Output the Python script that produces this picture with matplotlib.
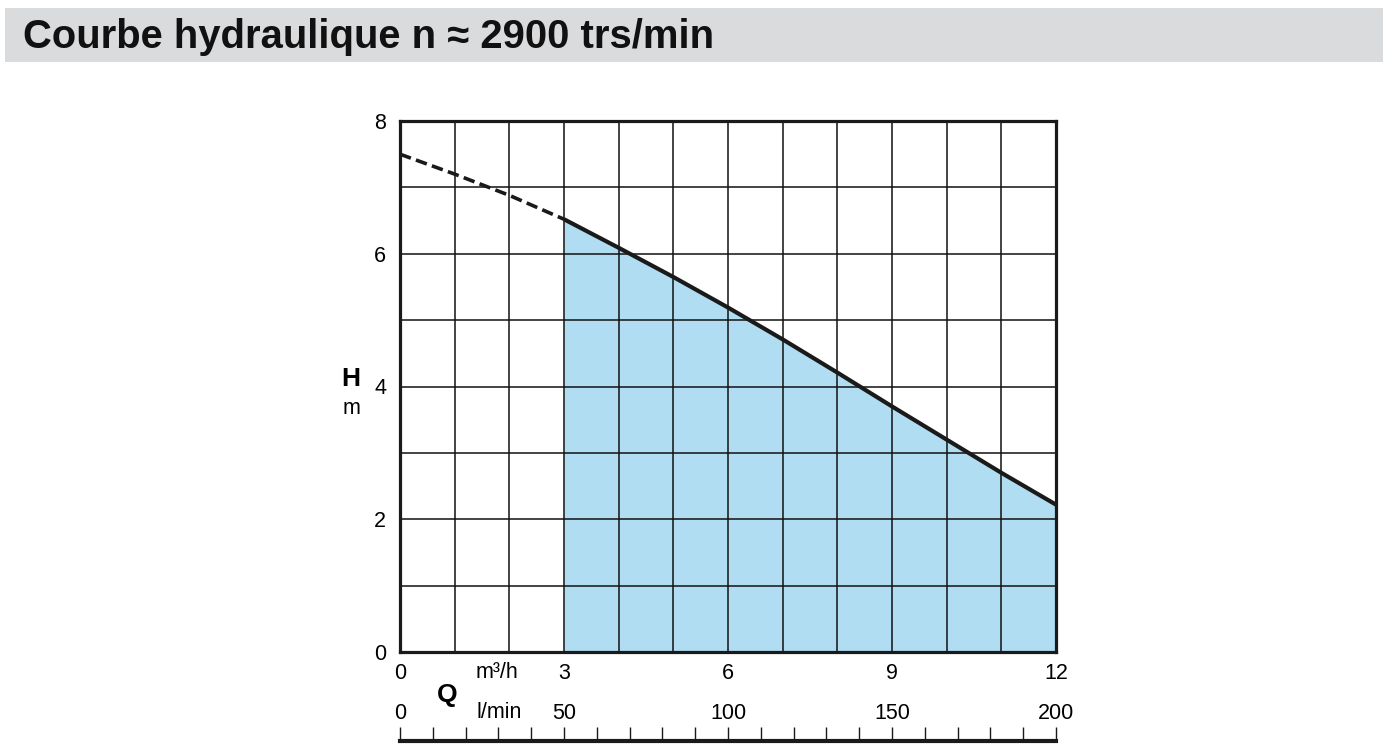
import matplotlib
matplotlib.use("Agg")
import matplotlib.pyplot as plt
from matplotlib.patches import Rectangle

plt.rcParams['font.family'] = ['Liberation Sans', 'DejaVu Sans']

# ---- data ----
q_m3h = [0, 1, 2, 3, 4, 5, 6, 7, 8, 9, 10, 11, 12]
h_m = [7.50, 7.20, 6.88, 6.52, 6.09, 5.65, 5.19, 4.71, 4.21, 3.70, 3.20, 2.70, 2.22]
q_start_solid = 3
x_ticks = [0, 3, 6, 9, 12]
x_tick_labels = ['0', '3', '6', '9', '12']
y_ticks = [0, 2, 4, 6, 8]
lmin_ticks = [0, 50, 100, 150, 200]
lmin_labels = ['0', '50', '100', '150', '200']
lmin_minor = list(range(0, 201, 10))
title = "Courbe hydraulique n \u2248 2900 trs/min"

W, H = 1394, 754
fig = plt.figure(figsize=(W / 100, H / 100), dpi=100)
FS = 15.5
FSB = 19

# title band
fig.patches.append(Rectangle((5 / W, 1 - 62 / H), 1378 / W, 54 / H,
                             transform=fig.transFigure, facecolor='#dadbdd',
                             edgecolor='none', zorder=0))
fig.text(23 / W, 1 - 37 / H, title, fontsize=28.8, fontweight='bold',
         ha='left', va='center', color='#111111')

# main axes
L, R, T, B = 400, 1056, 121, 652
ax = fig.add_axes([L / W, 1 - B / H, (R - L) / W, (B - T) / H])
ax.set_xlim(0, 12)
ax.set_ylim(0, 8)

dash_idx = [i for i, q in enumerate(q_m3h) if q <= q_start_solid]
solid_idx = [i for i, q in enumerate(q_m3h) if q >= q_start_solid]
qs = [q_m3h[i] for i in solid_idx]
hs = [h_m[i] for i in solid_idx]
ax.fill_between(qs, hs, 0, color='#b0ddf2', lw=0, zorder=1)
ax.plot([q_m3h[i] for i in dash_idx], [h_m[i] for i in dash_idx],
        color='#1a1a1a', lw=2.6, ls=(0, (3.2, 1.5)), zorder=4, solid_capstyle='butt')
ax.plot(qs, hs, color='#1a1a1a', lw=3.0, zorder=4, solid_capstyle='butt',
        solid_joinstyle='round')

ax.set_xticks(x_ticks)
ax.set_xticklabels(x_tick_labels)
ax.set_xticks(range(0, 13), minor=True)
ax.set_yticks(y_ticks)
ax.set_yticks(range(0, 9), minor=True)
ax.grid(True, which='both', color='#111111', lw=1.1)
ax.set_axisbelow(False)
ax.tick_params(which='both', length=0)
ax.tick_params(axis='x', pad=8, labelsize=FS)
ax.tick_params(axis='y', pad=10, labelsize=FS)
for s in ax.spines.values():
    s.set_linewidth(2.3)
    s.set_color('#1a1a1a')
    s.set_zorder(5)

# axis labels
ax.annotate('H', xy=(0, 4), xycoords='data', xytext=(-49, 8), textcoords='offset pixels',
            fontsize=FSB, fontweight='bold', ha='center', va='center')
ax.annotate('m', xy=(0, 4), xycoords='data', xytext=(-49, -22), textcoords='offset pixels',
            fontsize=FS, ha='center', va='center')
ax.annotate('m\u00b3/h', xy=(1.78, 0), xycoords='data', xytext=(0, -20), textcoords='offset pixels',
            fontsize=FS, ha='center', va='center')
ax.annotate('Q', xy=(0.87, 0), xycoords='data', xytext=(0, -43), textcoords='offset pixels',
            fontsize=FSB, fontweight='bold', ha='center', va='center')
ax.annotate('l/min', xy=(1.82, 0), xycoords='data', xytext=(0, -60), textcoords='offset pixels',
            fontsize=FS, ha='center', va='center')

# l/min ruler
rt, rb = 727, 741
ax2 = fig.add_axes([L / W, 1 - rb / H, (R - L) / W, (rb - rt) / H])
ax2.set_xlim(0, 200)
ax2.set_ylim(0, 1)
ax2.patch.set_alpha(0)
for k in ['top', 'left', 'right']:
    ax2.spines[k].set_visible(False)
ax2.spines['bottom'].set_linewidth(3.0)
ax2.spines['bottom'].set_color('#1a1a1a')
ax2.set_yticks([])
ax2.set_xticks(lmin_ticks)
ax2.set_xticklabels(lmin_labels)
ax2.set_xticks(lmin_minor, minor=True)
ax2.tick_params(axis='x', which='both', direction='in', bottom=True, top=False,
                length=10, width=1.0, color='#1a1a1a', labelbottom=False, labeltop=True,
                labelsize=FS, pad=2)

fig.savefig('out.png', dpi=100)
